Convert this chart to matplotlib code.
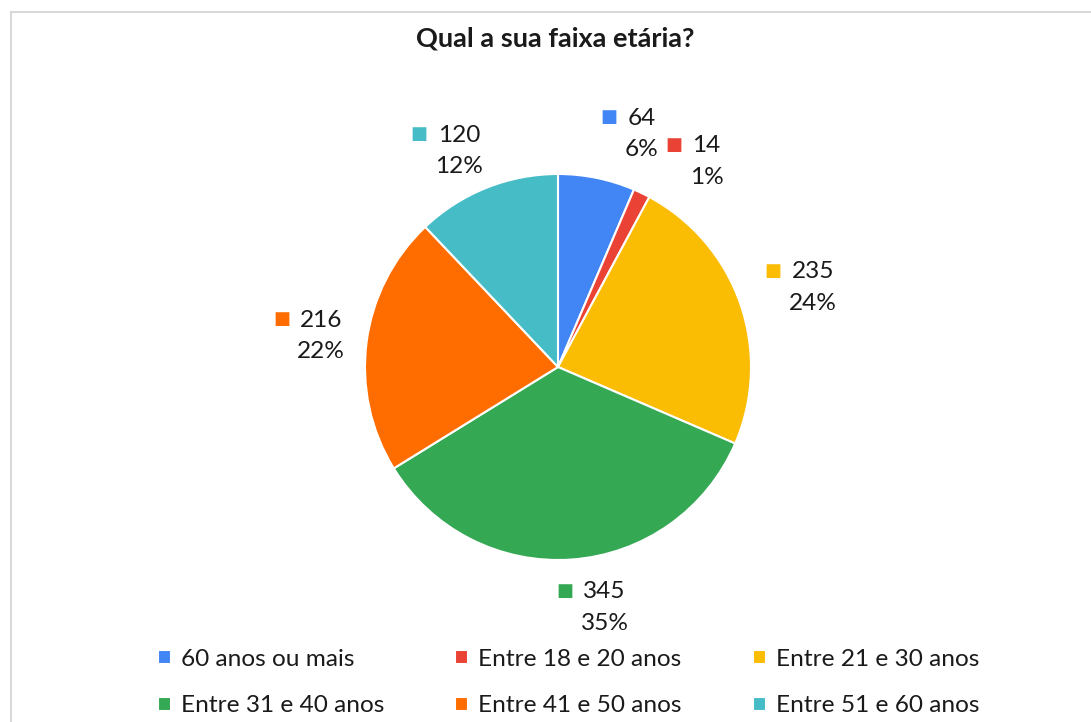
import numpy as np
import matplotlib.pyplot as plt
from matplotlib.patches import Rectangle

plt.rcParams['font.family'] = ['Lato', 'DejaVu Sans']

categories = ["60 anos ou mais", "Entre 18 e 20 anos", "Entre 21 e 30 anos",
              "Entre 31 e 40 anos", "Entre 41 e 50 anos", "Entre 51 e 60 anos"]
counts = [64, 14, 235, 345, 216, 120]
colors = ["#4285F4", "#EA4335", "#FBBC04", "#34A853", "#FF6D01", "#46BDC6"]
# small angular nudges (deg) so neighbouring labels don't collide
label_shift = [-4, -6, 0, 3, 0, 5]

W, H = 1091, 722
fig = plt.figure(figsize=(W / 100, H / 100), dpi=100)
ax = fig.add_axes([0, 0, 1, 1])

# chart frame
ax.add_patch(Rectangle((11, -20), W + 20, H - 12 + 20, fill=False,
                       edgecolor='#d9d9d9', lw=1.5))

cx, cy, r = 558, H - 367, 193
wedges, _ = ax.pie(counts, colors=colors, startangle=90, counterclock=False,
                   center=(cx, cy), radius=r, frame=True,
                   wedgeprops=dict(edgecolor='white', linewidth=1.5))
ax.set_xlim(0, W)
ax.set_ylim(0, H)
ax.set_aspect('equal')
ax.axis('off')

total = sum(counts)
txt = '#1a1a1a'
fs = 17.6
Dx, Dy = 254, 242
for w, n, sh in zip(wedges, counts, label_shift):
    ang = np.deg2rad((w.theta1 + w.theta2) / 2 + sh)
    x = cx + Dx * np.cos(ang)
    y = cy + Dy * np.sin(ang)
    val = ax.annotate(str(n), (x, y), xytext=(15, 15.5), textcoords='offset pixels',
                      ha='center', va='center', fontsize=fs, color=txt)
    ax.annotate(f"{n / total:.0%}", (x, y), xytext=(15, -16),
                textcoords='offset pixels', ha='center', va='center',
                fontsize=fs, color=txt)
    ax.annotate("\u25A0", (0, 0.5), xycoords=val, xytext=(-10, 1),
                textcoords='offset pixels', ha='right', va='center',
                fontsize=13, color=w.get_facecolor(), family='DejaVu Sans')

ax.text(555, H - 39, "Qual a sua faixa etária?", ha='center', va='center',
        fontsize=19.5, fontweight='bold', color=txt)

order = [0, 3, 1, 4, 2, 5]
leg = ax.legend([wedges[i] for i in order], [categories[i] for i in order],
                ncol=3, loc='upper left', bbox_to_anchor=(148 / W, 1 - 639 / H),
                frameon=False, fontsize=fs, handlelength=0.53, handleheight=0.53,
                handletextpad=0.42, columnspacing=2.9, labelspacing=1.05,
                borderaxespad=0)
for t in leg.get_texts():
    t.set_color(txt)

fig.savefig("out.png", dpi=100)
